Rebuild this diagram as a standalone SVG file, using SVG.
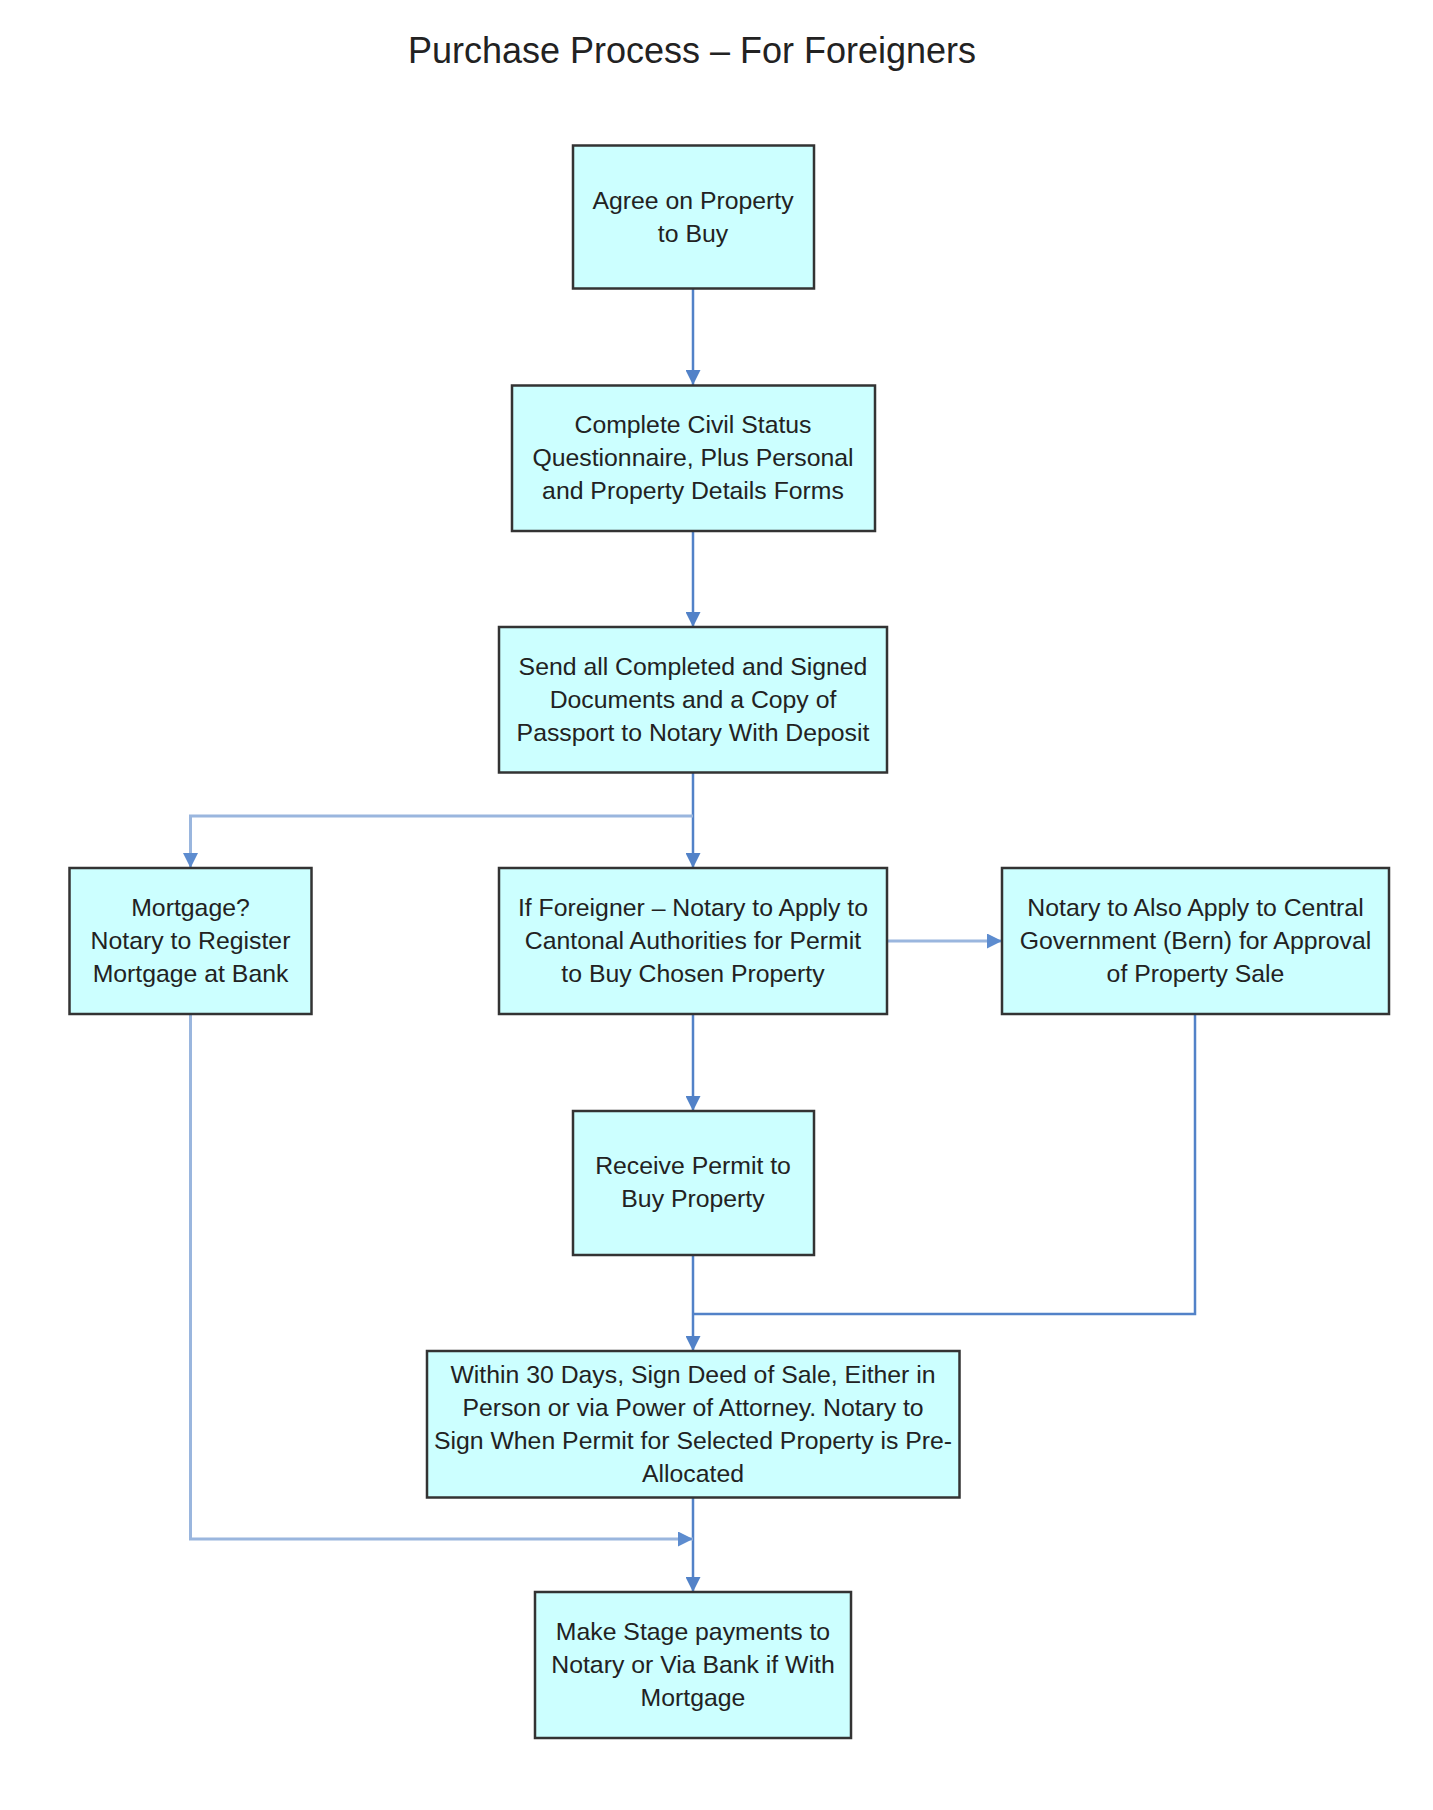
<svg xmlns="http://www.w3.org/2000/svg" width="1433" height="1810" viewBox="0 0 1433 1810">
<defs>
<style>
.box{fill:#CCFFFF;stroke:#333;stroke-width:2.5}
.t{font-family:"Liberation Sans",Arial,sans-serif;font-size:24.8px;fill:#222;text-anchor:middle}
.title{font-family:"Liberation Sans",Arial,sans-serif;font-size:36px;fill:#222;text-anchor:middle}
.c{fill:none;stroke:#5282C8;stroke-width:2.5}
.cl{fill:none;stroke:#9AB6DE;stroke-width:3}
</style>
<marker id="a" markerUnits="userSpaceOnUse" markerWidth="15" markerHeight="15" refX="15" refY="7.5" orient="auto"><path d="M0,0 L15,7.5 L0,15 z" fill="#5282C8"/></marker>
<marker id="al" markerUnits="userSpaceOnUse" markerWidth="15" markerHeight="15" refX="15" refY="7.5" orient="auto"><path d="M0,0 L15,7.5 L0,15 z" fill="#5D8CCF"/></marker>
</defs>
<rect width="1433" height="1810" fill="#fff"/>
<text class="title" x="692" y="63">Purchase Process – For Foreigners</text>
<g id="connectors">
<path class="c" d="M693,289 V385" marker-end="url(#a)"/>
<path class="c" d="M693,531 V627" marker-end="url(#a)"/>
<path class="c" d="M693,773 V868" marker-end="url(#a)"/>
<path class="cl" d="M693,816 H190.5 V868" marker-end="url(#al)"/>
<path class="cl" d="M887,941 H1002" marker-end="url(#al)"/>
<path class="c" d="M693,1014 V1111" marker-end="url(#a)"/>
<path class="c" d="M693,1255 V1351" marker-end="url(#a)"/>
<path class="c" d="M1195,1014 V1314 H693"/>
<path class="c" d="M693,1498 V1592" marker-end="url(#a)"/>
<path class="cl" d="M190.5,1014 V1539 H693" marker-end="url(#al)"/>
</g>
<g id="n1"><rect class="box" x="573" y="145.5" width="241" height="143"/>
<text class="t" x="693" y="209">Agree on Property</text><text class="t" x="693" y="242">to Buy</text></g>
<g id="n2"><rect class="box" x="512" y="385.5" width="363" height="145.5"/>
<text class="t" x="693" y="433">Complete Civil Status</text><text class="t" x="693" y="466">Questionnaire, Plus Personal</text><text class="t" x="693" y="499">and Property Details Forms</text></g>
<g id="n3"><rect class="box" x="499" y="627" width="388" height="145.5"/>
<text class="t" x="693" y="675">Send all Completed and Signed</text><text class="t" x="693" y="708">Documents and a Copy of</text><text class="t" x="693" y="741">Passport to Notary With Deposit</text></g>
<g id="n4"><rect class="box" x="69.5" y="868" width="242" height="146"/>
<text class="t" x="190.5" y="916">Mortgage?</text><text class="t" x="190.5" y="949">Notary to Register</text><text class="t" x="190.5" y="982">Mortgage at Bank</text></g>
<g id="n5"><rect class="box" x="499" y="868" width="388" height="146"/>
<text class="t" x="693" y="916">If Foreigner – Notary to Apply to</text><text class="t" x="693" y="949">Cantonal Authorities for Permit</text><text class="t" x="693" y="982">to Buy Chosen Property</text></g>
<g id="n6"><rect class="box" x="1002" y="868" width="387" height="146"/>
<text class="t" x="1195.5" y="916">Notary to Also Apply to Central</text><text class="t" x="1195.5" y="949">Government (Bern) for Approval</text><text class="t" x="1195.5" y="982">of Property Sale</text></g>
<g id="n7"><rect class="box" x="573" y="1111" width="241" height="144"/>
<text class="t" x="693" y="1174">Receive Permit to</text><text class="t" x="693" y="1207">Buy Property</text></g>
<g id="n8"><rect class="box" x="427" y="1351" width="532.5" height="146.5"/>
<text class="t" x="693" y="1383">Within 30 Days, Sign Deed of Sale, Either in</text><text class="t" x="693" y="1416">Person or via Power of Attorney. Notary to</text><text class="t" x="693" y="1449">Sign When Permit for Selected Property is Pre-</text><text class="t" x="693" y="1482">Allocated</text></g>
<g id="n9"><rect class="box" x="535" y="1592" width="316" height="146"/>
<text class="t" x="693" y="1640">Make Stage payments to</text><text class="t" x="693" y="1673">Notary or Via Bank if With</text><text class="t" x="693" y="1706">Mortgage</text></g>
</svg>
